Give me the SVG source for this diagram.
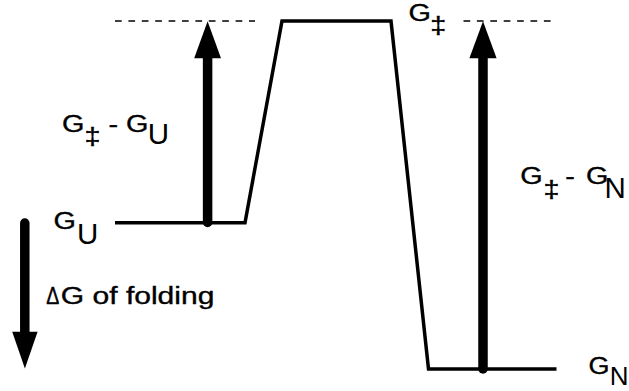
<svg xmlns="http://www.w3.org/2000/svg" width="629" height="391" viewBox="0 0 629 391">
<style>
  .t { font-family: "Liberation Sans", Arial, sans-serif; font-size: 23px; fill: #000; stroke: #000; stroke-width: 0.35; }
  .s { font-family: "Liberation Sans", Arial, sans-serif; font-size: 29.5px; fill: #000; }
  .dash { stroke: #000; stroke-width: 1.6; stroke-dasharray: 6.7 6.7; fill: none; }
  .profile { stroke: #000; stroke-width: 3.5; fill: none; stroke-linejoin: miter; }
  .shaft { stroke: #000; stroke-width: 9.5; stroke-linecap: round; fill: none; }
  .head { fill: #000; }
</style>
<rect width="629" height="391" fill="#fff"/>
<g id="connectors">
  <line class="dash" x1="115" y1="21" x2="255" y2="21"/>
  <line class="dash" x1="463.5" y1="21" x2="556" y2="21"/>
  <polyline class="profile" points="115,222.7 245,222.7 282,21 391,21 428.5,369 556.5,369"/>
  <g id="arrow-GU">
    <line class="shaft" x1="207.6" y1="56" x2="207.6" y2="222.5"/>
    <polygon class="head" points="194.2,58.3 221,58.3 207.6,21.3"/>
  </g>
  <g id="arrow-GN">
    <line class="shaft" x1="483" y1="56" x2="483" y2="369"/>
    <polygon class="head" points="469.4,58.3 496.6,58.3 483,21.3"/>
  </g>
  <g id="arrow-folding">
    <line class="shaft" x1="24.8" y1="223" x2="24.8" y2="334"/>
    <polygon class="head" points="12.2,331.7 37.6,331.7 24.9,368.5"/>
  </g>
</g>
<g id="label-GU-diff">
  <text class="t" x="62" y="132" textLength="22.4" lengthAdjust="spacingAndGlyphs">G</text>
  <text class="t" x="84.6" y="145.1" textLength="16" lengthAdjust="spacingAndGlyphs">‡</text>
  <text class="t" x="108.5" y="132" textLength="9.6" lengthAdjust="spacingAndGlyphs">-</text>
  <text class="t" x="126" y="132" textLength="22.4" lengthAdjust="spacingAndGlyphs">G</text>
  <text class="s" x="147.7" y="144.4">U</text>
</g>
<g id="label-GN-diff">
  <text class="t" x="520.3" y="184.3" textLength="22.4" lengthAdjust="spacingAndGlyphs">G</text>
  <text class="t" x="543.6" y="197.7" textLength="16" lengthAdjust="spacingAndGlyphs">‡</text>
  <text class="t" x="565.3" y="184.3" textLength="9.6" lengthAdjust="spacingAndGlyphs">-</text>
  <text class="t" x="586" y="184.3" textLength="22.4" lengthAdjust="spacingAndGlyphs">G</text>
  <text class="s" x="604.5" y="197.8">N</text>
</g>
<g id="label-Gts">
  <text class="t" x="408.6" y="20.7" textLength="22.4" lengthAdjust="spacingAndGlyphs">G</text>
  <text class="t" x="430.3" y="34.1" textLength="16" lengthAdjust="spacingAndGlyphs">‡</text>
</g>
<g id="label-GU">
  <text class="t" x="53.6" y="229.3" textLength="22.4" lengthAdjust="spacingAndGlyphs">G</text>
  <text class="s" x="77" y="243.8">U</text>
</g>
<g id="label-GN">
  <text class="t" x="588.5" y="373.5" textLength="21" lengthAdjust="spacingAndGlyphs">G</text>
  <text class="s" x="609.8" y="385" style="font-size:26px">N</text>
</g>
<g id="label-folding">
  <text class="t" x="46.2" y="304.3" textLength="13" lengthAdjust="spacingAndGlyphs">Δ</text>
  <text class="t" x="60.8" y="304.3" textLength="153.6" lengthAdjust="spacingAndGlyphs">G of folding</text>
</g>
</svg>
